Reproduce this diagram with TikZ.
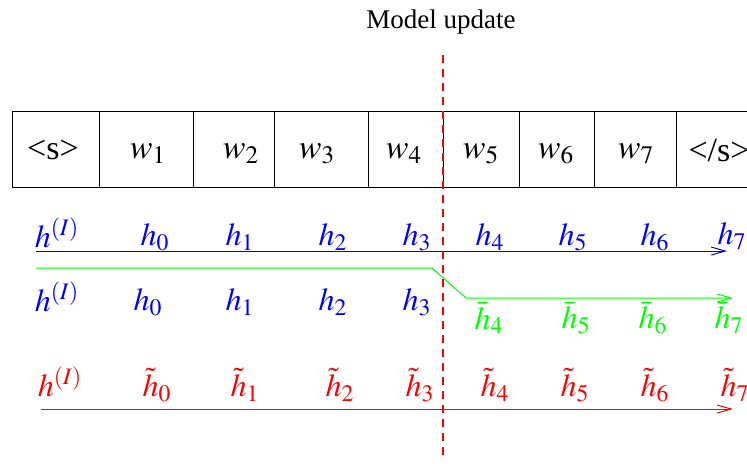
\documentclass[tikz,border=0pt]{standalone}
\usepackage{mathptmx}
\usepackage{fontspec}
\setmainfont{Liberation Serif}
\usetikzlibrary{arrows.meta}
\newcommand{\hI}{h^{(I)}}

\begin{document}
\begin{tikzpicture}[
  x=0.5pt, y=-0.5pt, >={Straight Barb[length=7pt,width=4pt]},
  cell/.style={draw, line width=0.5pt, inner sep=0pt, outer sep=0pt, minimum height=38pt},
  word/.style={inner sep=0pt, font=\fontsize{17}{20}\selectfont},
  lbl/.style={inner sep=0pt, font=\fontsize{16}{19}\selectfont},
  flow/.style={line width=0.5pt, ->},
  cut/.style={draw=red, line width=1pt, dash pattern=on 4pt off 3pt},
]
  \clip (0,0) rectangle (747,463);
  % title
  \node[inner sep=0pt, font=\fontsize{13.5}{16}\selectfont] (title) at (441,22) {Model update};
  % word row
  \foreach \l/\r [count=\i] in {12/99, 99/193, 193/274, 274/368,
      368/443, 443/519, 519/594, 594/676, 676/780}
    \node[cell, minimum width={(\r-\l)*0.5pt}] (c\i) at ({(\l+\r)/2},149) {};
  \node[word] (t1) at (53,150) {<s>};
  \node[word] (t2) at (148,154) {$w_1$};
  \node[word] (t3) at (241,154) {$w_2$};
  \node[word] (t4) at (317,154) {$w_3$};
  \node[word] (t5) at (404,154) {$w_4$};
  \node[word] (t6) at (481,154) {$w_5$};
  \node[word] (t7) at (556,154) {$w_6$};
  \node[word] (t8) at (636,154) {$w_7$};
  \node[word] (t9) at (719,150) {</s>};

  % old states
  \begin{scope}[blue]
    \node[lbl] (a0) at (57,233) {$\hI$};
    \node[lbl] (a1) at (155,237) {$h_0$};
    \node[lbl] (a2) at (240,237) {$h_1$};
    \node[lbl] (a3) at (333,237) {$h_2$};
    \node[lbl] (a4) at (417,237) {$h_3$};
    \node[lbl] (a5) at (490,237) {$h_4$};
    \node[lbl] (a6) at (573,237) {$h_5$};
    \node[lbl] (a7) at (655,237) {$h_6$};
    \node[lbl] (a8) at (732,236) {$h_7$};
    \coordinate (bs) at (36,251);
    \coordinate (be) at (727,251);
    \draw[flow] (bs) -- (be);
  \end{scope}

  % partial update
  \node[lbl, blue] (p0) at (57,297) {$\hI$};
  \node[lbl, blue] (p1) at (148,302) {$h_0$};
  \node[lbl, blue] (p2) at (240,302) {$h_1$};
  \node[lbl, blue] (p3) at (333,302) {$h_2$};
  \node[lbl, blue] (p4) at (417,302) {$h_3$};
  \begin{scope}[green]
    \node[lbl] (p5) at (489,318) {$\bar{h}_4$};
    \node[lbl] (p6) at (576,318) {$\bar{h}_5$};
    \node[lbl] (p7) at (653,318) {$\bar{h}_6$};
    \node[lbl] (p8) at (729,318) {$\bar{h}_7$};
    \coordinate (gs) at (36,268);
    \coordinate (gk) at (432,268);
    \coordinate (gl) at (466,298);
    \coordinate (ge) at (733,298);
    \draw[flow] (gs) -- (gk) -- (gl) -- (ge);
  \end{scope}

  % new states
  \begin{scope}[red]
    \node[lbl] (n0) at (60,382) {$\hI$};
    \node[lbl] (n1) at (157,385) {$\tilde{h}_0$};
    \node[lbl] (n2) at (245,385) {$\tilde{h}_1$};
    \node[lbl] (n3) at (340,385) {$\tilde{h}_2$};
    \node[lbl] (n4) at (420,385) {$\tilde{h}_3$};
    \node[lbl] (n5) at (495,385) {$\tilde{h}_4$};
    \node[lbl] (n6) at (575,385) {$\tilde{h}_5$};
    \node[lbl] (n7) at (655,385) {$\tilde{h}_6$};
    \node[lbl] (n8) at (735,385) {$\tilde{h}_7$};
    \coordinate (rs) at (41,409);
    \coordinate (re) at (733,409);
    \draw[flow] (rs) -- (re);
  \end{scope}

  % update point
  \coordinate (ut) at (443,55);
  \coordinate (ub) at (443,455);
  \draw[cut] (ut) -- (ub);
\end{tikzpicture}
\end{document}
